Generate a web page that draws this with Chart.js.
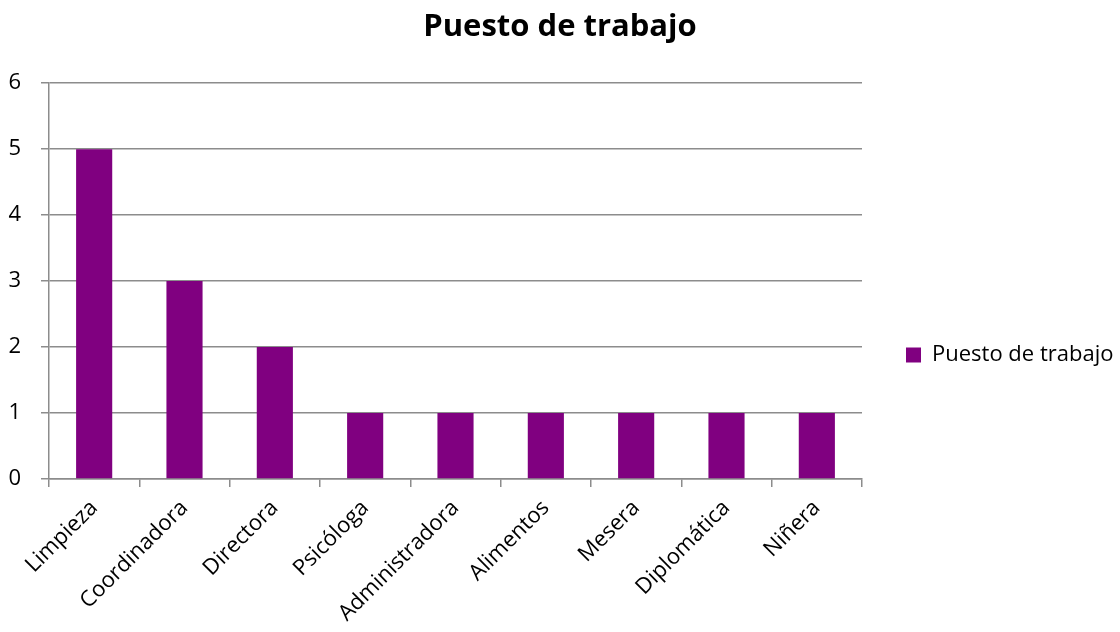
<!DOCTYPE html>
<html>
<head>
<meta charset="utf-8">
<script src="https://cdn.jsdelivr.net/npm/chart.js@4/dist/chart.umd.min.js"></script>
<style>
  html, body { margin:0; padding:0; background:#fff; }
  #wrap { width:1120px; height:632px; }
</style>
</head>
<body>
<div id="wrap"><canvas id="chart" width="1120" height="632"></canvas></div>
<script>
/* data */
const categories = ["Limpieza","Coordinadora","Directora","Psicóloga","Administradora","Alimentos","Mesera","Diplomática","Niñera"];
const values = [5,3,2,1,1,1,1,1,1];
const seriesName = "Puesto de trabajo";
const yTicks = [0,1,2,3,4,5,6];

const FONT = "'Open Sans', sans-serif";
const GRID = "#8c8c8c";

// legend on the right: fixed width so the plot stops at x=862,
// and pushed down a little after layout
const legendPlace = {
  id:"legendPlace",
  beforeLayout(chart){
    const lg = chart.legend;
    if(lg && !lg._fixed){
      const fit = lg.fit.bind(lg);
      lg.fit = function(){ fit(); this.width = 258; };
      lg._fixed = true;
    }
  },
  afterLayout(chart){
    if(chart.legend) chart.legend.top = 78;
  }
};

new Chart(document.getElementById("chart"), {
  type:"bar",
  data:{
    labels:categories,
    datasets:[{
      label:seriesName,
      data:values,
      backgroundColor:"#800080",
      borderWidth:0,
      barPercentage:0.4,
      categoryPercentage:1
    }]
  },
  options:{
    responsive:false,
    animation:false,
    layout:{ padding:{ left:0, right:0, top:0, bottom:0 } },
    plugins:{
      title:{
        display:true,
        text:"Puesto de trabajo",
        color:"#000",
        font:{ family:FONT, size:31, weight:"bold" },
        padding:{ top:9, bottom:37 }
      },
      legend:{
        position:"right",
        labels:{
          color:"#000",
          font:{ family:FONT, size:22 },
          boxWidth:15,
          boxHeight:15,
          padding:44
        }
      },
      tooltip:{ enabled:false }
    },
    scales:{
      x:{
        grid:{ drawOnChartArea:false, drawTicks:true, tickLength:8, color:GRID, lineWidth:1.5 },
        border:{ color:GRID, width:1.5 },
        ticks:{ color:"#000", font:{ family:FONT, size:22 }, maxRotation:45, minRotation:45, padding:8 },
        afterFit(scale){ scale.height = 153; }
      },
      y:{
        min:0, max:6,
        afterBuildTicks(scale){ scale.ticks = yTicks.map(v => ({ value:v })); },
        grid:{ color:GRID, lineWidth:1.5, tickLength:8 },
        border:{ color:GRID, width:1.5 },
        ticks:{ color:"#000", font:{ family:FONT, size:22 }, padding:20 },
        afterFit(scale){ scale.width = 49; }
      }
    }
  },
  plugins:[legendPlace]
});
</script>
</body>
</html>
